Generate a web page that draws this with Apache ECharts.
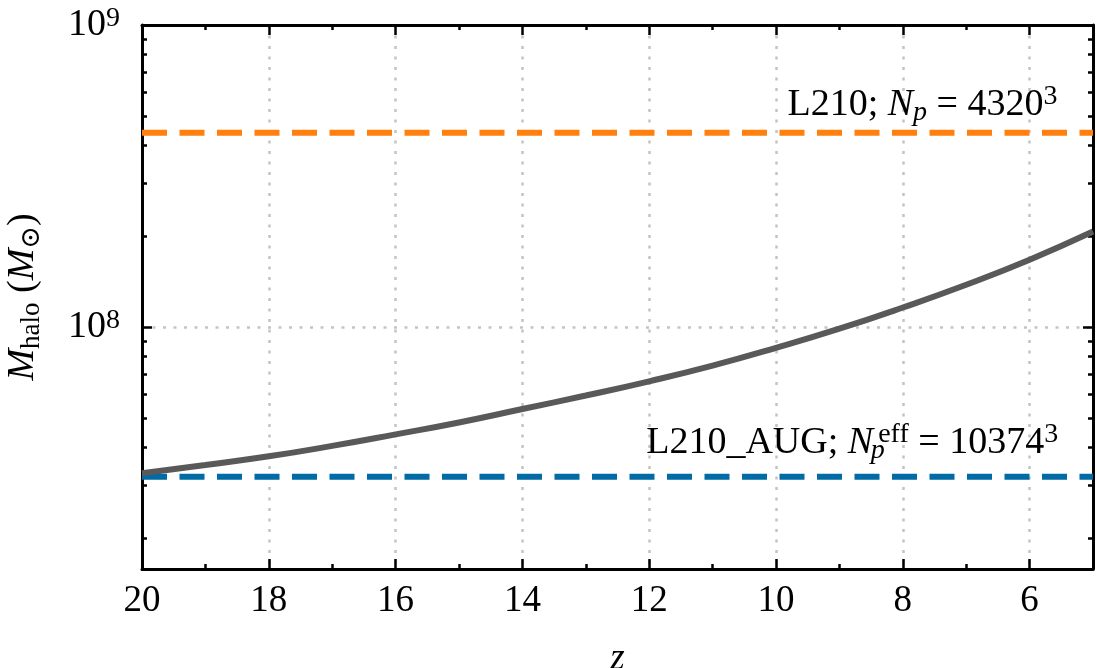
<!DOCTYPE html>
<html>
<head>
    <meta charset="utf-8">
    <title>M_halo vs z</title>
</head>
<body style="margin: 0; background: #fff">
<div id="main" style="width: 1097px; height: 668px"></div>
<script src="https://cdn.jsdelivr.net/npm/echarts@6.0.0/dist/echarts.min.js"></script>
<script>
// redshift samples and halo mass
var zVals = [20, 19, 18, 17, 16, 15, 14, 13, 12, 11, 10, 9, 8, 7, 6, 5];
var mHalo = [3.28e7, 3.49e7, 3.73e7, 4.04e7, 4.41e7, 4.83e7, 5.35e7, 5.93e7, 6.61e7,
             7.45e7, 8.53e7, 9.87e7, 1.16e8, 1.38e8, 1.67e8, 2.07e8];
var mL210 = 4.4e8;      // L210; N_p = 4320^3
var mAug = 3.19e7;      // L210_AUG; N_p^eff = 10374^3
var xMajor = [6, 8, 10, 12, 14, 16, 18, 20];
var xMinor = [7, 9, 11, 13, 15, 17, 19];
var yMajor = [1e8, 1e9];
var yMinor = [2e7, 3e7, 4e7, 5e7, 6e7, 7e7, 8e7, 9e7, 2e8, 3e8, 4e8, 5e8, 6e8, 7e8, 8e8, 9e8];
var zMin = 5, zMax = 20, mMin = 1.58e7, mMax = 1e9;

var FONT = "'Liberation Serif', 'DejaVu Serif', serif";
var chart = echarts.init(document.getElementById('main'));

function xAx(pos, ticks, len, main) {
    return {
        type: 'value', position: pos, inverse: true, min: zMin, max: zMax,
        axisLine: {show: main, lineStyle: {color: '#000', width: 3}},
        axisTick: {show: true, inside: true, length: len, customValues: ticks,
                   lineStyle: {color: '#000', width: 2.5}},
        axisLabel: {show: false},
        splitLine: {show: false}
    };
}
function yAx(pos, ticks, len, main) {
    return {
        type: 'log', logBase: 10, position: pos, min: mMin, max: mMax,
        axisLine: {show: main, lineStyle: {color: '#000', width: 3}},
        axisTick: {show: true, inside: true, length: len, customValues: ticks,
                   lineStyle: {color: '#000', width: 2.5}},
        axisLabel: {show: false},
        splitLine: {show: false}
    };
}

var xMain = xAx('bottom', xMajor, 10, true);
xMain.axisLabel = {show: true, customValues: xMajor, margin: 14, color: '#000',
                   fontFamily: FONT, fontSize: 37};
xMain.splitLine = {show: true, lineStyle: {color: '#c4c4c4', width: 2.5, type: [3, 7.5]}};
xMain.name = 'z';
xMain.nameLocation = 'middle';
xMain.nameGap = 72;
xMain.nameTextStyle = {color: '#000', fontFamily: FONT, fontSize: 37, fontStyle: 'italic'};

var yMain = yAx('left', yMajor, 10, true);
yMain.axisLabel = {
    show: true, customValues: yMajor, margin: 22,
    formatter: function (v) { return '{b|10}{s|' + Math.round(Math.log10(v)) + '}'; },
    rich: {
        b: {fontFamily: FONT, fontSize: 38, color: '#000', lineHeight: 40},
        s: {fontFamily: FONT, fontSize: 28, color: '#000', verticalAlign: 'top', lineHeight: 26}
    }
};
yMain.splitLine = {show: true, lineStyle: {color: '#c4c4c4', width: 2.5, type: [3, 7.5]}};
yMain.name = '{i|M}{sub|halo}{t| (}{i|M}{sub|\u2299}{t|)}';
yMain.nameLocation = 'middle';
yMain.nameRotate = 90;
yMain.nameGap = 97;
yMain.nameTextStyle = {
    rich: {
        i: {fontFamily: FONT, fontSize: 38, fontStyle: 'italic', color: '#000', lineHeight: 44},
        t: {fontFamily: FONT, fontSize: 38, color: '#000', lineHeight: 44},
        sub: {fontFamily: FONT, fontSize: 27, color: '#000', verticalAlign: 'bottom', lineHeight: 28}
    }
};

var dashed = {width: 6, type: [25, 12.5], cap: 'butt'};

var option = {
    animation: false,
    backgroundColor: '#fff',
    grid: {left: 142, right: 4, top: 25, bottom: 99, containLabel: false, outerBoundsMode: 'none'},
    xAxis: [xMain, xAx('bottom', xMinor, 5, false), xAx('top', xMajor, 10, true), xAx('top', xMinor, 5, false)],
    yAxis: [yMain, yAx('left', yMinor, 5, false), yAx('right', yMajor, 10, true), yAx('right', yMinor, 5, false)],
    series: [
        {
            type: 'line', name: 'L210', symbol: 'none', silent: true,
            data: [[zMax, mL210], [zMin, mL210]],
            lineStyle: Object.assign({color: '#ff800e'}, dashed)
        },
        {
            type: 'line', name: 'L210_AUG', symbol: 'none', silent: true,
            data: [[zMax, mAug], [zMin, mAug]],
            lineStyle: Object.assign({color: '#006ba4'}, dashed)
        },
        {
            type: 'line', name: 'M_halo', symbol: 'none', smooth: true, silent: true,
            data: zVals.map(function (z, i) { return [z, mHalo[i]]; }),
            lineStyle: {color: '#595959', width: 6}
        }
    ]
};
chart.setOption(option);

// annotations anchored to data coordinates
var pO = chart.convertToPixel({xAxisIndex: 0, yAxisIndex: 0}, [5.56, mL210]);
var pB = chart.convertToPixel({xAxisIndex: 0, yAxisIndex: 0}, [5.55, mAug]);
var richTxt = {
    t: {fontFamily: FONT, fontSize: 38, fill: '#000', lineHeight: 44},
    i: {fontFamily: FONT, fontSize: 38, fontStyle: 'italic', fill: '#000', lineHeight: 44},
    sub: {fontFamily: FONT, fontSize: 28, fontStyle: 'italic', fill: '#000', verticalAlign: 'bottom', lineHeight: 26},
    subw: {fontFamily: FONT, fontSize: 28, fontStyle: 'italic', fill: '#000', verticalAlign: 'bottom', lineHeight: 26,
           width: 1, align: 'left', padding: [0, 0, 0, 4]},
    sup: {fontFamily: FONT, fontSize: 28, fill: '#000', verticalAlign: 'top', lineHeight: 26},
    eff: {fontFamily: FONT, fontSize: 28, fill: '#000', verticalAlign: 'top', lineHeight: 26}
};
chart.setOption({
    graphic: [
        {
            type: 'text', x: pO[0], y: pO[1] - 6, silent: true,
            style: {text: '{t|L210; }{i|N}{sub|p}{t| = 4320}{sup|3}', align: 'right',
                    verticalAlign: 'bottom', rich: richTxt}
        },
        {
            type: 'text', x: pB[0], y: pB[1] - 12, silent: true,
            style: {text: '{t|L210_AUG; }{i|N}{subw|p}{eff|eff}{t| = 10374}{sup|3}', align: 'right',
                    verticalAlign: 'bottom', rich: richTxt}
        }
    ]
});
</script>
</body>
</html>
